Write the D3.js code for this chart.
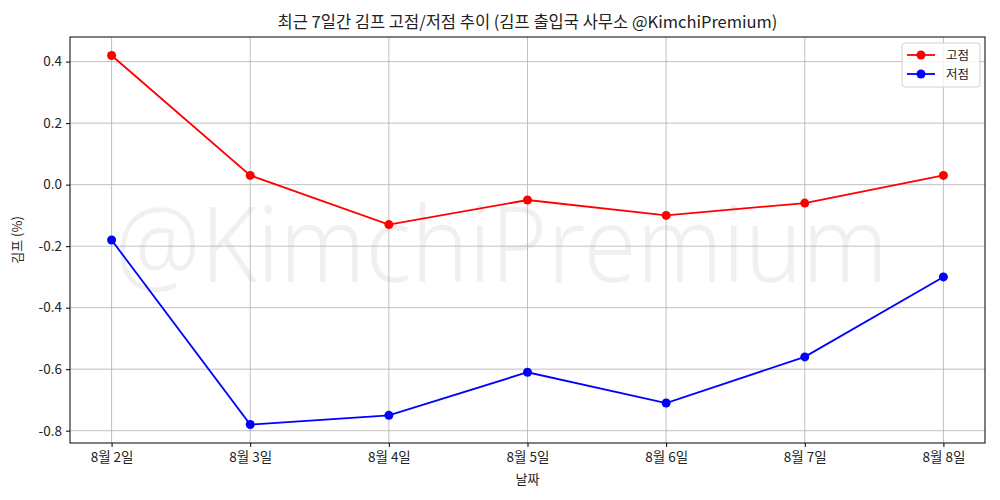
<!DOCTYPE html>
<html>
<head>
<meta charset="utf-8">
<script src="https://cdn.jsdelivr.net/npm/d3@7"></script>
<style>
  body { margin: 0; background: #fff; }
  text { font-family: "Noto Sans CJK KR", "Noto Sans", sans-serif; }
</style>
</head>
<body>
<svg id="chart" width="1000" height="500"></svg>
<script>
var days = ["8월 2일", "8월 3일", "8월 4일", "8월 5일", "8월 6일", "8월 7일", "8월 8일"];
var highs = [0.42, 0.03, -0.13, -0.05, -0.10, -0.06, 0.03];
var lows = [-0.18, -0.78, -0.75, -0.61, -0.71, -0.56, -0.30];
var yTicks = [0.4, 0.2, 0.0, -0.2, -0.4, -0.6, -0.8];
var seriesNames = ["고점", "저점"];
var seriesColors = ["#ff0000", "#0000ff"];

var svg = d3.select("#chart");
var margin = { left: 70, right: 15, top: 37, bottom: 57 };
var width = 1000 - margin.left - margin.right,
  height = 500 - margin.top - margin.bottom;

var x = d3.scaleLinear().domain([-0.3, days.length - 1 + 0.3]).range([0, width]);
var y = d3.scaleLinear().domain([-0.84, 0.48]).range([height, 0]);

var g = svg.append("g")
  .attr("transform", "translate(" + margin.left + "," + margin.top + ")");

// watermark, under the grid
g.append("text")
  .attr("x", 45)
  .attr("y", 245)
  .attr("textLength", 773)
  .attr("lengthAdjust", "spacingAndGlyphs")
  .style("font-size", "104px")
  .style("font-family", "'Noto Sans', 'DejaVu Sans', sans-serif")
  .style("font-weight", 300)
  .style("fill", "#000")
  .style("fill-opacity", 0.06)
  .text("@KimchiPremium");

// grid
g.selectAll(".vgrid").data(days).enter().append("line")
  .attr("x1", function (d, i) { return x(i); })
  .attr("x2", function (d, i) { return x(i); })
  .attr("y1", 0).attr("y2", height)
  .style("stroke", "#b0b0b0").style("stroke-width", 0.8);
g.selectAll(".hgrid").data(yTicks).enter().append("line")
  .attr("x1", 0).attr("x2", width)
  .attr("y1", function (d) { return y(d); })
  .attr("y2", function (d) { return y(d); })
  .style("stroke", "#b0b0b0").style("stroke-width", 0.8);

// axes
var xAxis = d3.axisBottom(x)
  .tickValues(d3.range(days.length))
  .tickFormat(function (i) { return days[i]; })
  .tickSize(4).tickPadding(5);
var yAxis = d3.axisLeft(y)
  .tickValues(yTicks)
  .tickFormat(function (d) { return d3.format(".1f")(d).replace("−", "-"); })
  .tickSize(4).tickPadding(4);

var gx = g.append("g").attr("transform", "translate(0," + height + ")").call(xAxis);
var gy = g.append("g").call(yAxis);
[gx, gy].forEach(function (a) {
  a.select(".domain").remove();
  a.selectAll("text").style("font-size", "13.5px").style("fill", "#222");
  a.selectAll("line").style("stroke", "#000");
});

g.append("rect")
  .attr("width", width).attr("height", height)
  .style("fill", "none").style("stroke", "#000").style("stroke-width", 1);

// lines
var line = d3.line()
  .x(function (d, i) { return x(i); })
  .y(function (d) { return y(d); });

[highs, lows].forEach(function (vals, k) {
  g.append("path")
    .datum(vals)
    .attr("d", line)
    .style("fill", "none")
    .style("stroke", seriesColors[k])
    .style("stroke-width", 1.8);
  g.selectAll(".pt" + k).data(vals).enter().append("circle")
    .attr("cx", function (d, i) { return x(i); })
    .attr("cy", function (d) { return y(d); })
    .attr("r", 4.5)
    .style("fill", seriesColors[k]);
});

// title & labels
svg.append("text")
  .attr("x", margin.left + width / 2).attr("y", 28)
  .attr("text-anchor", "middle")
  .style("font-size", "16.5px").style("fill", "#222")
  .text("최근 7일간 김프 고점/저점 추이 (김프 출입국 사무소 @KimchiPremium)");
svg.append("text")
  .attr("x", margin.left + width / 2).attr("y", 484)
  .attr("text-anchor", "middle")
  .style("font-size", "13px").style("fill", "#222")
  .text("날짜");
svg.append("text")
  .attr("transform", "translate(22," + (margin.top + height / 2) + ") rotate(-90)")
  .attr("text-anchor", "middle")
  .style("font-size", "13px").style("fill", "#222")
  .text("김프 (%)");

// legend
var lg = g.append("g").attr("transform", "translate(" + (width - 83) + ",6)");
lg.append("rect")
  .attr("width", 78).attr("height", 44).attr("rx", 3)
  .style("fill", "#fff").style("fill-opacity", 0.8)
  .style("stroke", "#d0d0d0");
seriesNames.forEach(function (name, k) {
  var ly = 12 + k * 19;
  lg.append("line")
    .attr("x1", 5).attr("x2", 33).attr("y1", ly).attr("y2", ly)
    .style("stroke", seriesColors[k]).style("stroke-width", 1.8);
  lg.append("circle").attr("cx", 19).attr("cy", ly).attr("r", 4.5)
    .style("fill", seriesColors[k]);
  lg.append("text").attr("x", 44).attr("y", ly + 4.5)
    .style("font-size", "12.5px").style("fill", "#222")
    .text(name);
});
</script>
</body>
</html>
